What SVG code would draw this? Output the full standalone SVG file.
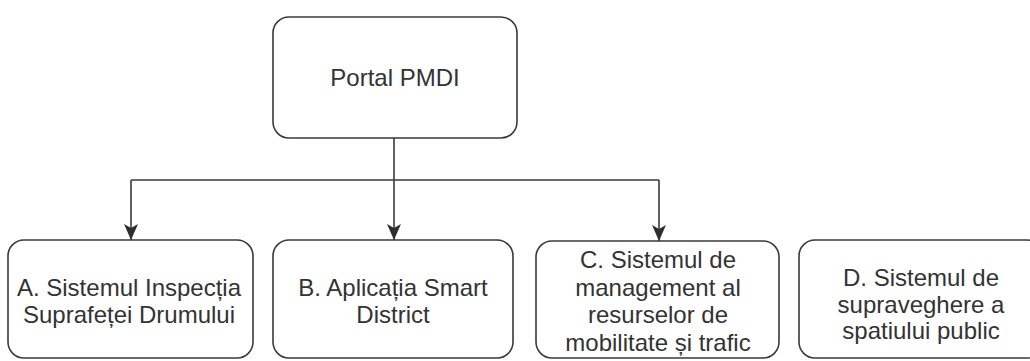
<svg xmlns="http://www.w3.org/2000/svg" width="1030" height="361" viewBox="0 0 1030 361">
<style>
.box{fill:#ffffff;stroke:#3a3a3a;stroke-width:1.6}
.lbl{font-family:"Liberation Sans",Arial,sans-serif;font-size:24px;fill:#333333;text-anchor:middle}
.edge{fill:none;stroke:#3a3a3a;stroke-width:1.6}
</style>
<defs>
<marker id="arr" viewBox="0 0 16 14" refX="16" refY="7" markerWidth="16" markerHeight="14" markerUnits="userSpaceOnUse" orient="auto">
<path d="M0,0 L16,7 L0,14 L4,7 Z" fill="#2e2e2e"/>
</marker>
</defs>
<rect width="1030" height="361" fill="#ffffff"/>
<g id="connectors">
<path class="edge" d="M394,138 V180"/>
<path class="edge" d="M131,180 H659"/>
<path class="edge" d="M131,180 V240" marker-end="url(#arr)"/>
<path class="edge" d="M394,180 V240" marker-end="url(#arr)"/>
<path class="edge" d="M659,180 V241" marker-end="url(#arr)"/>
</g>
<g id="portal">
<rect class="box" x="273" y="17" width="244" height="121" rx="16"/>
<text class="lbl" x="395" y="86">Portal PMDI</text>
</g>
<g id="nodeA">
<rect class="box" x="8" y="240" width="245" height="118" rx="16"/>
<text class="lbl" x="129" y="296">A. Sistemul Inspecția</text>
<text class="lbl" x="129" y="323">Suprafeței Drumului</text>
</g>
<g id="nodeB">
<rect class="box" x="273" y="240" width="240" height="118" rx="16"/>
<text class="lbl" x="393" y="296">B. Aplicația Smart</text>
<text class="lbl" x="393" y="323">District</text>
</g>
<g id="nodeC">
<rect class="box" x="536" y="241" width="243" height="117" rx="16"/>
<text class="lbl" x="658" y="268">C. Sistemul de</text>
<text class="lbl" x="658" y="295.5">management al</text>
<text class="lbl" x="658" y="323">resurselor de</text>
<text class="lbl" x="658" y="350.5">mobilitate și trafic</text>
</g>
<g id="nodeD">
<rect class="box" x="799" y="240" width="244" height="118" rx="16"/>
<text class="lbl" x="921" y="286">D. Sistemul de</text>
<text class="lbl" x="921" y="313">supraveghere a</text>
<text class="lbl" x="921" y="339">spatiului public</text>
</g>
</svg>
